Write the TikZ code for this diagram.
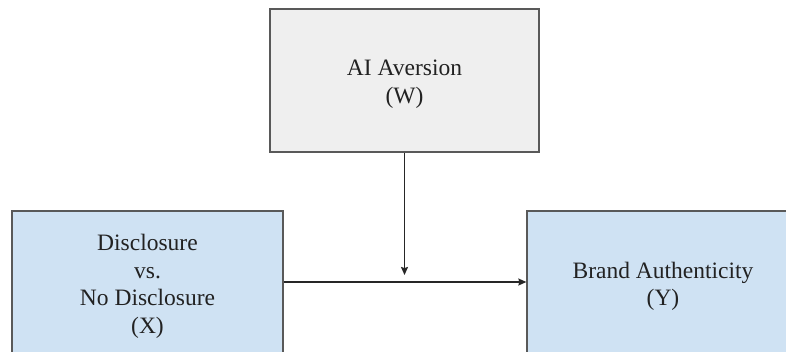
\documentclass[tikz,border=0pt]{standalone}
\usepackage{fontspec}
\setmainfont{Liberation Serif}
\newfontfamily\timesx{Liberation Serif}
\usetikzlibrary{arrows.meta}
\definecolor{grayfill}{HTML}{EFEFEF}
\definecolor{bluefill}{HTML}{CFE2F3}
\definecolor{edgegray}{HTML}{595959}
\definecolor{txtgray}{HTML}{222222}
\newcommand{\lowtext}[1]{\raisebox{-3.5pt}[\height][\depth]{\begin{tabular}{@{}c@{}}#1\end{tabular}}}
\tikzset{
  varbox/.style={draw=edgegray, line width=1.3pt, minimum width=271pt, minimum height=144pt,
    align=center, text=txtgray, font=\timesx\fontsize{23.5}{27.5}\selectfont, inner sep=0pt},
  link/.style={draw=black!85, line width=1.2pt, -{Stealth[length=8pt,width=7pt,inset=1pt]}}
}
\begin{document}
\begin{tikzpicture}[x=1pt,y=-1pt]
\useasboundingbox (0,0) rectangle (786,351);
\clip (0,0) rectangle (786,351);
\fill[white] (0,0) rectangle (786,351);
\node[varbox, fill=grayfill, minimum width=269pt, minimum height=143pt] (W) at (404.5,80.5) {\lowtext{AI Aversion\\(W)}};
\node[varbox, fill=bluefill] (X) at (147.5,283) {\lowtext{Disclosure\\vs.\\No Disclosure\\(X)}};
\node[varbox, fill=bluefill, minimum width=272pt] (Y) at (663,283) {\lowtext{Brand Authenticity\\(Y)}};
\coordinate (J) at ([yshift=8pt]W.south |- X.east);
\draw[link] ([yshift=1pt]X.east) -- ([yshift=1pt]Y.west);
\draw[link] (W.south) -- (J);
\end{tikzpicture}
\end{document}
